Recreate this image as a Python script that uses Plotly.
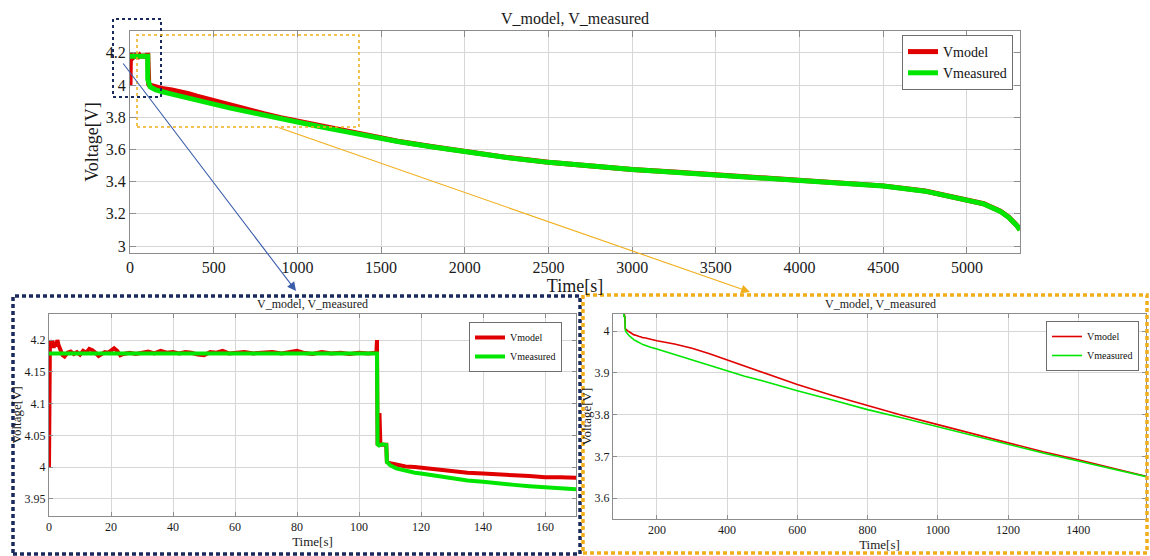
import plotly.graph_objects as go

W, H = 1150, 556

# ---------------- data ----------------
# Vmodel: noisy plateau at start
t_model_start = [0, 0.3, 0.7, 1.1, 1.5, 1.9, 2.3, 2.7, 3.1, 3.5,
                 3.9, 4.4, 5, 6, 7, 8, 9, 10, 11, 12,
                 13, 14, 15, 16, 17, 18, 19, 20, 21, 22,
                 23, 24, 26, 28, 30, 32, 34, 36, 38, 40,
                 42, 44, 46, 48, 50, 52, 54, 56, 58, 60,
                 63, 66, 69, 72, 75, 78, 80, 82, 85, 88,
                 91, 94, 97, 100, 103, 105.6]
v_model_start = [4.000, 4.200, 4.190, 4.199, 4.188, 4.196, 4.190, 4.200, 4.192, 4.186,
                 4.182, 4.176, 4.174, 4.180, 4.182, 4.178, 4.181, 4.177, 4.183, 4.180,
                 4.186, 4.184, 4.180, 4.175, 4.178, 4.181, 4.180, 4.184, 4.187, 4.183,
                 4.176, 4.178, 4.180, 4.178, 4.180, 4.182, 4.179, 4.183, 4.180, 4.181,
                 4.179, 4.181, 4.180, 4.177, 4.176, 4.181, 4.180, 4.183, 4.179, 4.180,
                 4.181, 4.179, 4.180, 4.181, 4.179, 4.181, 4.183, 4.180, 4.178, 4.181,
                 4.179, 4.180, 4.178, 4.180, 4.179, 4.180]
# Vmodel: step and discharge
t_model_tail = [105.8, 106.0, 106.3, 106.6, 106.9, 107.5, 108.8, 109.0, 110, 112,
                115, 118, 120, 125, 130, 135, 140, 145, 150, 155,
                160, 165, 170, 180, 200, 250, 300, 350, 400, 450,
                500, 550, 600, 700, 800, 900, 1000, 1100, 1200, 1300,
                1400, 1500, 1600, 1800, 2000, 2250, 2500, 2750, 3000, 3250,
                3500, 3750, 4000, 4250, 4500, 4750, 5000, 5100, 5200, 5250,
                5300, 5317]
v_model_tail = [4.200, 4.036, 4.035, 4.085, 4.036, 4.035, 4.035, 4.008, 4.006, 4.004,
                4.001, 4.000, 3.999, 3.996, 3.993, 3.991, 3.990, 3.988, 3.987, 3.986,
                3.984, 3.984, 3.983, 3.981, 3.977, 3.969, 3.959, 3.946, 3.931, 3.917,
                3.902, 3.887, 3.872, 3.846, 3.822, 3.798, 3.776, 3.754, 3.732, 3.711,
                3.692, 3.672, 3.651, 3.618, 3.586, 3.551, 3.521, 3.496, 3.476, 3.460,
                3.444, 3.429, 3.413, 3.396, 3.374, 3.342, 3.291, 3.263, 3.216, 3.179,
                3.126, 3.101]
# Vmeasured
t_meas = [0, 20, 40, 60, 80, 105.8, 106.0, 106.5, 107.5, 108.8,
          109.0, 110, 112, 115, 118, 120, 125, 130, 135, 140,
          145, 150, 155, 160, 165, 170, 180, 200, 250, 300,
          350, 400, 450, 500, 550, 600, 700, 800, 900, 1000,
          1100, 1200, 1300, 1400, 1500, 1600, 1800, 2000, 2250, 2500,
          2750, 3000, 3250, 3500, 3750, 4000, 4250, 4500, 4750, 5000,
          5100, 5200, 5250, 5300, 5317]
v_meas = [4.179, 4.179, 4.179, 4.179, 4.179, 4.179, 4.036, 4.034, 4.036, 4.035,
          4.008, 4.003, 3.998, 3.994, 3.991, 3.990, 3.986, 3.982, 3.979, 3.977,
          3.974, 3.972, 3.970, 3.968, 3.966, 3.965, 3.962, 3.957, 3.944, 3.931,
          3.918, 3.904, 3.892, 3.881, 3.869, 3.857, 3.835, 3.812, 3.792, 3.771,
          3.749, 3.728, 3.708, 3.689, 3.670, 3.650, 3.617, 3.585, 3.550, 3.520,
          3.495, 3.475, 3.459, 3.443, 3.428, 3.412, 3.395, 3.373, 3.341, 3.290,
          3.262, 3.215, 3.178, 3.125, 3.100]

t_model = t_model_start + t_model_tail
v_model = v_model_start + v_model_tail

# tick labels
top_xticks = [0, 500, 1000, 1500, 2000, 2500, 3000, 3500, 4000, 4500, 5000]
top_yticks = [3.0, 3.2, 3.4, 3.6, 3.8, 4.0, 4.2]
top_ytext = ["3", "3.2", "3.4", "3.6", "3.8", "4", "4.2"]
bl_xticks = [0, 20, 40, 60, 80, 100, 120, 140, 160]
bl_yticks = [3.95, 4.0, 4.05, 4.1, 4.15, 4.2]
bl_ytext = ["3.95", "4", "4.05", "4.1", "4.15", "4.2"]
br_xticks = [200, 400, 600, 800, 1000, 1200, 1400]
br_yticks = [3.6, 3.7, 3.8, 3.9, 4.0]
br_ytext = ["3.6", "3.7", "3.8", "3.9", "4"]

TITLE = "V_model, V_measured"
RED = "#e00000"
GREEN = "#00e600"
NAVY = "#1b2a5c"
AMBER = "#f0ae1a"
SERIF = "Liberation Serif"


def px(x):
    return x / W


def py(y):
    return 1 - y / H


fig = go.Figure()

panels = [
    ("x", "y", "legend", 5, 5),
    ("x2", "y2", "legend2", 4, 4),
    ("x3", "y3", "legend3", 1.6, 1.6),
]
for xa, ya, lg, wm, wg in panels:
    fig.add_trace(go.Scatter(x=t_model, y=v_model, mode="lines", name="Vmodel",
                             line=dict(color=RED, width=wm), xaxis=xa, yaxis=ya,
                             legend=lg))
    fig.add_trace(go.Scatter(x=t_meas, y=v_meas, mode="lines", name="Vmeasured",
                             line=dict(color=GREEN, width=wg), xaxis=xa, yaxis=ya,
                             legend=lg))

axis_common = dict(showline=True, linecolor="#8c8c8c", linewidth=1, mirror="ticks",
                   ticks="inside", tickcolor="#8c8c8c", showgrid=True,
                   gridcolor="#d6d6d6", gridwidth=1, zeroline=False, automargin=False)

fig.update_layout(
    width=W, height=H, margin=dict(l=0, r=0, t=0, b=0),
    paper_bgcolor="white", plot_bgcolor="white",
    font=dict(family=SERIF, color="#1a1a1a"),
    title=dict(text=TITLE, x=0.5, xanchor="center", y=py(18), yanchor="middle",
               font=dict(size=16, family=SERIF, color="#1a1a1a")),
    xaxis=dict(axis_common, domain=[px(130), px(1020)], anchor="y", range=[0, 5317],
               tickvals=top_xticks, ticklen=6, tickfont=dict(size=16),
               title=dict(text="Time[s]", font=dict(size=18), standoff=2)),
    yaxis=dict(axis_common, domain=[py(253), py(31)], anchor="x", range=[2.957, 4.336],
               tickvals=top_yticks, ticktext=top_ytext, ticklen=6, tickfont=dict(size=16),
               title=dict(text="Voltage[V]", font=dict(size=18), standoff=2)),
    xaxis2=dict(axis_common, domain=[px(49), px(576)], anchor="y2", range=[0, 170],
                tickvals=bl_xticks, ticklen=4, tickfont=dict(size=12),
                title=dict(text="Time[s]", font=dict(size=13), standoff=2)),
    yaxis2=dict(axis_common, domain=[py(516), py(314)], anchor="x2", range=[3.923, 4.241],
                tickvals=bl_yticks, ticktext=bl_ytext, ticklen=4, tickfont=dict(size=12),
                title=dict(text="Voltage[V]", font=dict(size=13), standoff=0)),
    xaxis3=dict(axis_common, domain=[px(613), px(1146)], anchor="y3", range=[75, 1593],
                tickvals=br_xticks, ticklen=4, tickfont=dict(size=12),
                title=dict(text="Time[s]", font=dict(size=13), standoff=2)),
    yaxis3=dict(axis_common, domain=[py(519), py(314)], anchor="x3", range=[3.55, 4.041],
                tickvals=br_yticks, ticktext=br_ytext, ticklen=4, tickfont=dict(size=12),
                title=dict(text="Voltage[V]", font=dict(size=13), standoff=0)),
    legend=dict(x=px(1013), y=py(35), xanchor="right", yanchor="top",
                bgcolor="white", bordercolor="#6e6e6e", borderwidth=1,
                font=dict(size=14, family=SERIF, color="#111"), tracegroupgap=0),
    legend2=dict(x=px(562), y=py(322), xanchor="right", yanchor="top",
                 bgcolor="white", bordercolor="#6e6e6e", borderwidth=1,
                 font=dict(size=10, family=SERIF, color="#111"), tracegroupgap=0),
    legend3=dict(x=px(1139), y=py(321), xanchor="right", yanchor="top",
                 bgcolor="white", bordercolor="#6e6e6e", borderwidth=1,
                 font=dict(size=10, family=SERIF, color="#111"), tracegroupgap=0),
    showlegend=True,
)

# subplot titles for the zoomed panels
for cx in (312, 880):
    fig.add_annotation(text=TITLE, xref="paper", yref="paper", x=px(cx), y=py(304),
                       xanchor="center", yanchor="middle", showarrow=False,
                       font=dict(size=12, family=SERIF, color="#1a1a1a"))

# dotted highlight boxes on the overview chart
fig.add_shape(type="rect", xref="paper", yref="paper",
              x0=px(113), x1=px(161), y0=py(97), y1=py(19),
              line=dict(color=NAVY, width=2, dash="dot"))
fig.add_shape(type="rect", xref="paper", yref="paper",
              x0=px(137), x1=px(359), y0=py(127), y1=py(35),
              line=dict(color=AMBER, width=1.5, dash="dot"))

# dotted frames around the zoomed panels
fig.add_shape(type="rect", xref="paper", yref="paper",
              x0=px(13), x1=px(580), y0=py(554), y1=py(296),
              line=dict(color=NAVY, width=3.5, dash="4px,3px"))
fig.add_shape(type="rect", xref="paper", yref="paper",
              x0=px(583), x1=px(1147), y0=py(553), y1=py(295),
              line=dict(color=AMBER, width=3.5, dash="4px,3px"))

# arrows linking boxes to zoomed panels
fig.add_annotation(x=px(296), y=py(291), xref="paper", yref="paper", text="",
                   showarrow=True, ax=122 - 296, ay=62 - 291, axref="pixel", ayref="pixel",
                   arrowhead=2, arrowsize=1.6, arrowwidth=1.1, arrowcolor="#3a5daa")
fig.add_annotation(x=px(750), y=py(292), xref="paper", yref="paper", text="",
                   showarrow=True, ax=277 - 750, ay=127 - 292, axref="pixel", ayref="pixel",
                   arrowhead=2, arrowsize=1.6, arrowwidth=1.1, arrowcolor=AMBER)

fig.write_html("out.html", config={"displayModeBar": False},
               post_script="document.body.style.margin='0';document.body.style.overflow='hidden';")
